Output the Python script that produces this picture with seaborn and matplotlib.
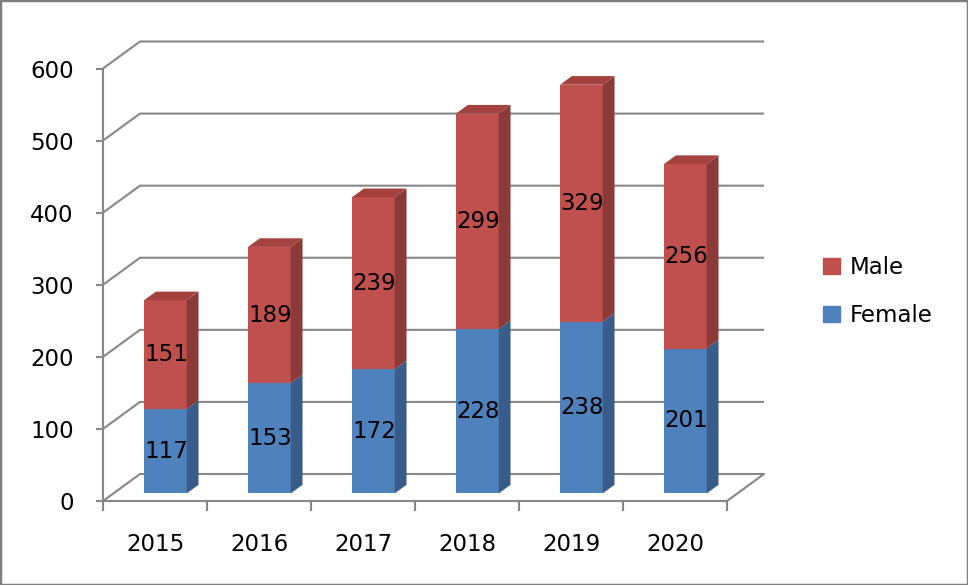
import numpy as np
import pandas as pd
import matplotlib
matplotlib.use("Agg")
import matplotlib.pyplot as plt
import seaborn as sns
from matplotlib.patches import Polygon, Patch, Rectangle

# ---- data ----
years = ["2015", "2016", "2017", "2018", "2019", "2020"]
female = [117, 153, 172, 228, 238, 201]
male = [151, 189, 239, 299, 329, 256]
yticks = [0, 100, 200, 300, 400, 500, 600]

RED, BLUE = "#C0504D", "#4F81BD"
RED_SIDE, BLUE_SIDE, RED_TOP = "#8C3A38", "#385D8A", "#A3423F"
GRID = "#878787"
FS = 16.5

sns.set_theme(style="white")
plt.rcParams['font.family'] = ['DejaVu Sans']
plt.rcParams['text.color'] = 'black'

W, H = 968, 585
fig = plt.figure(figsize=(W / 100, H / 100), dpi=100)

# geometry in pixels
front_left, front_right = 103, 727
front_y0, front_ytop = 501, 68.5
DEPTH = (37, 27)
bar_d0, bar_d1 = 0.28, 0.60
BW = 0.41
XPX = (front_right - front_left) / 6.0
YPX = (front_y0 - front_ytop) / 600.0


def rect(l, r, b, t):
    return [l / W, 1 - b / H, (r - l) / W, (b - t) / H]


def dep(x, y, d):
    return (x + d * DEPTH[0] / XPX, y + d * DEPTH[1] / YPX)


ax_f = fig.add_axes(rect(front_left, front_right, front_y0, front_ytop))
ox, oy = bar_d0 * DEPTH[0], bar_d0 * DEPTH[1]
ax_b = fig.add_axes(rect(front_left + ox, front_right + ox, front_y0 - oy, front_ytop - oy))
ax_f.set_zorder(0)
ax_b.set_zorder(1)
ax_b.patch.set_visible(False)
ax_f.patch.set_visible(False)

# ---- front/back wall frame ----
ax_f.set_xlim(-0.5, 5.5)
ax_f.set_ylim(0, 600)
for v in yticks:
    pts = [(-0.5, v), dep(-0.5, v, 1), dep(5.5, v, 1)]
    if v == 0:
        pts.append((5.5, 0))
    xs, ys = zip(*pts)
    ax_f.plot(xs, ys, color=GRID, lw=1.5, clip_on=False, solid_capstyle='butt')
for s in ["top", "right"]:
    ax_f.spines[s].set_visible(False)
for s in ["left", "bottom"]:
    ax_f.spines[s].set_visible(True)
    ax_f.spines[s].set_color(GRID)
    ax_f.spines[s].set_linewidth(1.5)
ax_f.set_yticks(yticks)
ax_f.set_yticklabels([str(v) for v in yticks])
ax_f.set_xticks(np.arange(-0.5, 6, 1))
ax_f.set_xticklabels([])
ax_f.set_xticks(np.arange(len(years)), minor=True)
ax_f.set_xticklabels(years, minor=True)
ax_f.tick_params(axis='y', left=True, length=5, width=1.5, color=GRID, pad=16,
                 labelsize=FS, labelcolor='black')
ax_f.tick_params(axis='x', which='major', bottom=True, length=7, width=1.5, color=GRID)
ax_f.tick_params(axis='x', which='minor', bottom=True, length=0, pad=23,
                 labelsize=FS, labelcolor='black')
ax_f.grid(False)

# ---- bars ----
df = pd.DataFrame({"year": years, "Female": female, "Male": male})
df["Total"] = df["Female"] + df["Male"]
sns.barplot(data=df, x="year", y="Total", color=RED, saturation=1, width=BW,
            linewidth=0, ax=ax_b)
sns.barplot(data=df, x="year", y="Female", color=BLUE, saturation=1, width=BW,
            linewidth=0, ax=ax_b)
ax_b.set_xlim(-0.5, 5.5)
ax_b.set_ylim(0, 600)
ax_b.axis('off')

dd = bar_d1 - bar_d0
for i, (f, m) in enumerate(zip(female, male)):
    t = f + m
    xr = i + BW / 2
    for y0, y1, col in [(0, f, BLUE_SIDE), (f, t, RED_SIDE)]:
        poly = [(xr, y0), dep(xr, y0, dd), dep(xr, y1, dd), (xr, y1)]
        ax_b.add_patch(Polygon(poly, closed=True, fc=col, ec='none', clip_on=False))
    top = [(i - BW / 2, t), (xr, t), dep(xr, t, dd), dep(i - BW / 2, t, dd)]
    ax_b.add_patch(Polygon(top, closed=True, fc=RED_TOP, ec='none', clip_on=False))
    ax_b.text(i + 0.01, f / 2, str(f), ha='center', va='center', fontsize=FS, color='black')
    ax_b.text(i + 0.01, f + m / 2, str(m), ha='center', va='center', fontsize=FS, color='black')

# ---- legend ----
handles = [Patch(color=RED, label="Male"), Patch(color=BLUE, label="Female")]
fig.legend(handles=handles, loc='center left', bbox_to_anchor=(823 / W, 1 - 291.5 / H),
           frameon=False, fontsize=FS, handlelength=0.72, handleheight=0.72,
           handletextpad=0.45, labelspacing=1.1, borderpad=0, borderaxespad=0,
           labelcolor='black')

fig.add_artist(Rectangle((0, 0), 1, 1, transform=fig.transFigure, fill=False,
                         ec="#7F7F7F", lw=2.5))

fig.savefig("out.png", dpi=100)
